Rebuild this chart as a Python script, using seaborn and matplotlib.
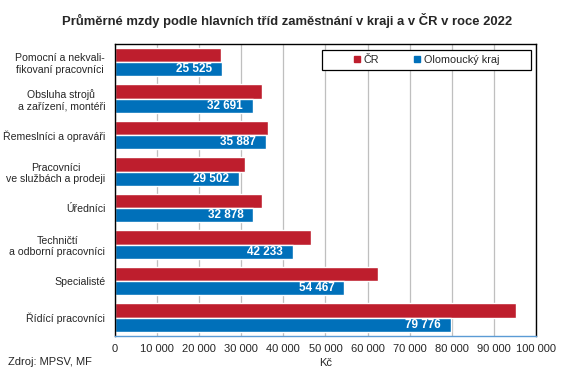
import pandas as pd
import matplotlib.pyplot as plt
import seaborn as sns
from matplotlib.patches import Patch, Rectangle
from matplotlib.ticker import FuncFormatter

# Data
categories = ['Pomocní a nekvali-\nfikovaní pracovníci',
              'Obsluha strojů\na zařízení, montéři',
              'Řemeslníci a opraváři',
              'Pracovníci\nve službách a prodeji',
              'Úředníci',
              'Techničtí\na odborní pracovníci',
              'Specialisté',
              'Řídící pracovníci']
cr_values = [25300, 35000, 36300, 30900, 34900, 46600, 62400, 95200]
olomouc_values = [25525, 32691, 35887, 29502, 32878, 42233, 54467, 79776]
series = ['ČR', 'Olomoucký kraj']
colors = ['#BE1E2D', '#0070BA']

df = pd.DataFrame({
    'kategorie': categories * 2,
    'rada': [series[0]] * len(categories) + [series[1]] * len(categories),
    'mzda': cr_values + olomouc_values,
})

sns.set_style('white')
plt.rcParams['font.family'] = ['Liberation Sans', 'DejaVu Sans']

fig, ax = plt.subplots(figsize=(5.63, 3.72), dpi=100)
fig.subplots_adjust(left=0.204, right=0.952, top=0.882, bottom=0.097)

sns.barplot(data=df, y='kategorie', x='mzda', hue='rada', hue_order=series,
            palette=colors, order=categories, orient='h', width=0.78,
            saturation=1, ax=ax, legend=False)

# labels on the regional bars
labels = ax.bar_label(ax.containers[1], labels=[f'{v:,}'.replace(',', ' ') for v in olomouc_values],
                      padding=-7, color='white', fontsize=8.5, fontweight='bold')
for t in labels:
    t.set_ha('right')

ax.set_xlim(0, 100000)
ax.set_xticks(range(0, 100001, 10000))
ax.xaxis.set_major_formatter(FuncFormatter(lambda v, p: f'{int(v):,}'.replace(',', ' ')))
ax.grid(axis='x', color='#BFBFBF', linewidth=0.9)
ax.set_axisbelow(True)
ax.tick_params(axis='x', labelsize=8, length=3, color='#5B9BD5', pad=3)
ax.tick_params(axis='y', labelsize=7.6, length=0, pad=7)
for lbl in ax.get_yticklabels():
    lbl.set_multialignment('center')
    lbl.set_horizontalalignment('right')

for side in ['left', 'top', 'right']:
    ax.spines[side].set_color('black')
    ax.spines[side].set_linewidth(1)
ax.spines['bottom'].set_color('#5B9BD5')
ax.spines['bottom'].set_linewidth(1)

ax.set_ylabel('')
ax.set_xlabel('Kč', fontsize=8, labelpad=3)

# legend: wide framed box with the entries centred in it
ax.add_patch(Rectangle((0.492, 0.911), 0.496, 0.068, transform=ax.transAxes,
                       facecolor='white', edgecolor='black', linewidth=0.9, zorder=5))
handles = [Patch(color=c, label=s) for c, s in zip(colors, series)]
leg = ax.legend(handles=handles, ncol=2, loc='center', bbox_to_anchor=(0.74, 0.945),
                fontsize=7.8, frameon=False,
                handlelength=0.55, handleheight=0.55, handletextpad=0.3,
                columnspacing=3.3, borderpad=0, borderaxespad=0)
leg.set_zorder(6)

fig.suptitle('Průměrné mzdy podle hlavních tříd zaměstnání v kraji a v ČR v roce 2022',
             fontsize=9.4, fontweight='bold', x=0.51, y=0.965)
fig.text(0.014, 0.02, 'Zdroj: MPSV, MF', fontsize=8)

plt.savefig('out.png', dpi=100)
